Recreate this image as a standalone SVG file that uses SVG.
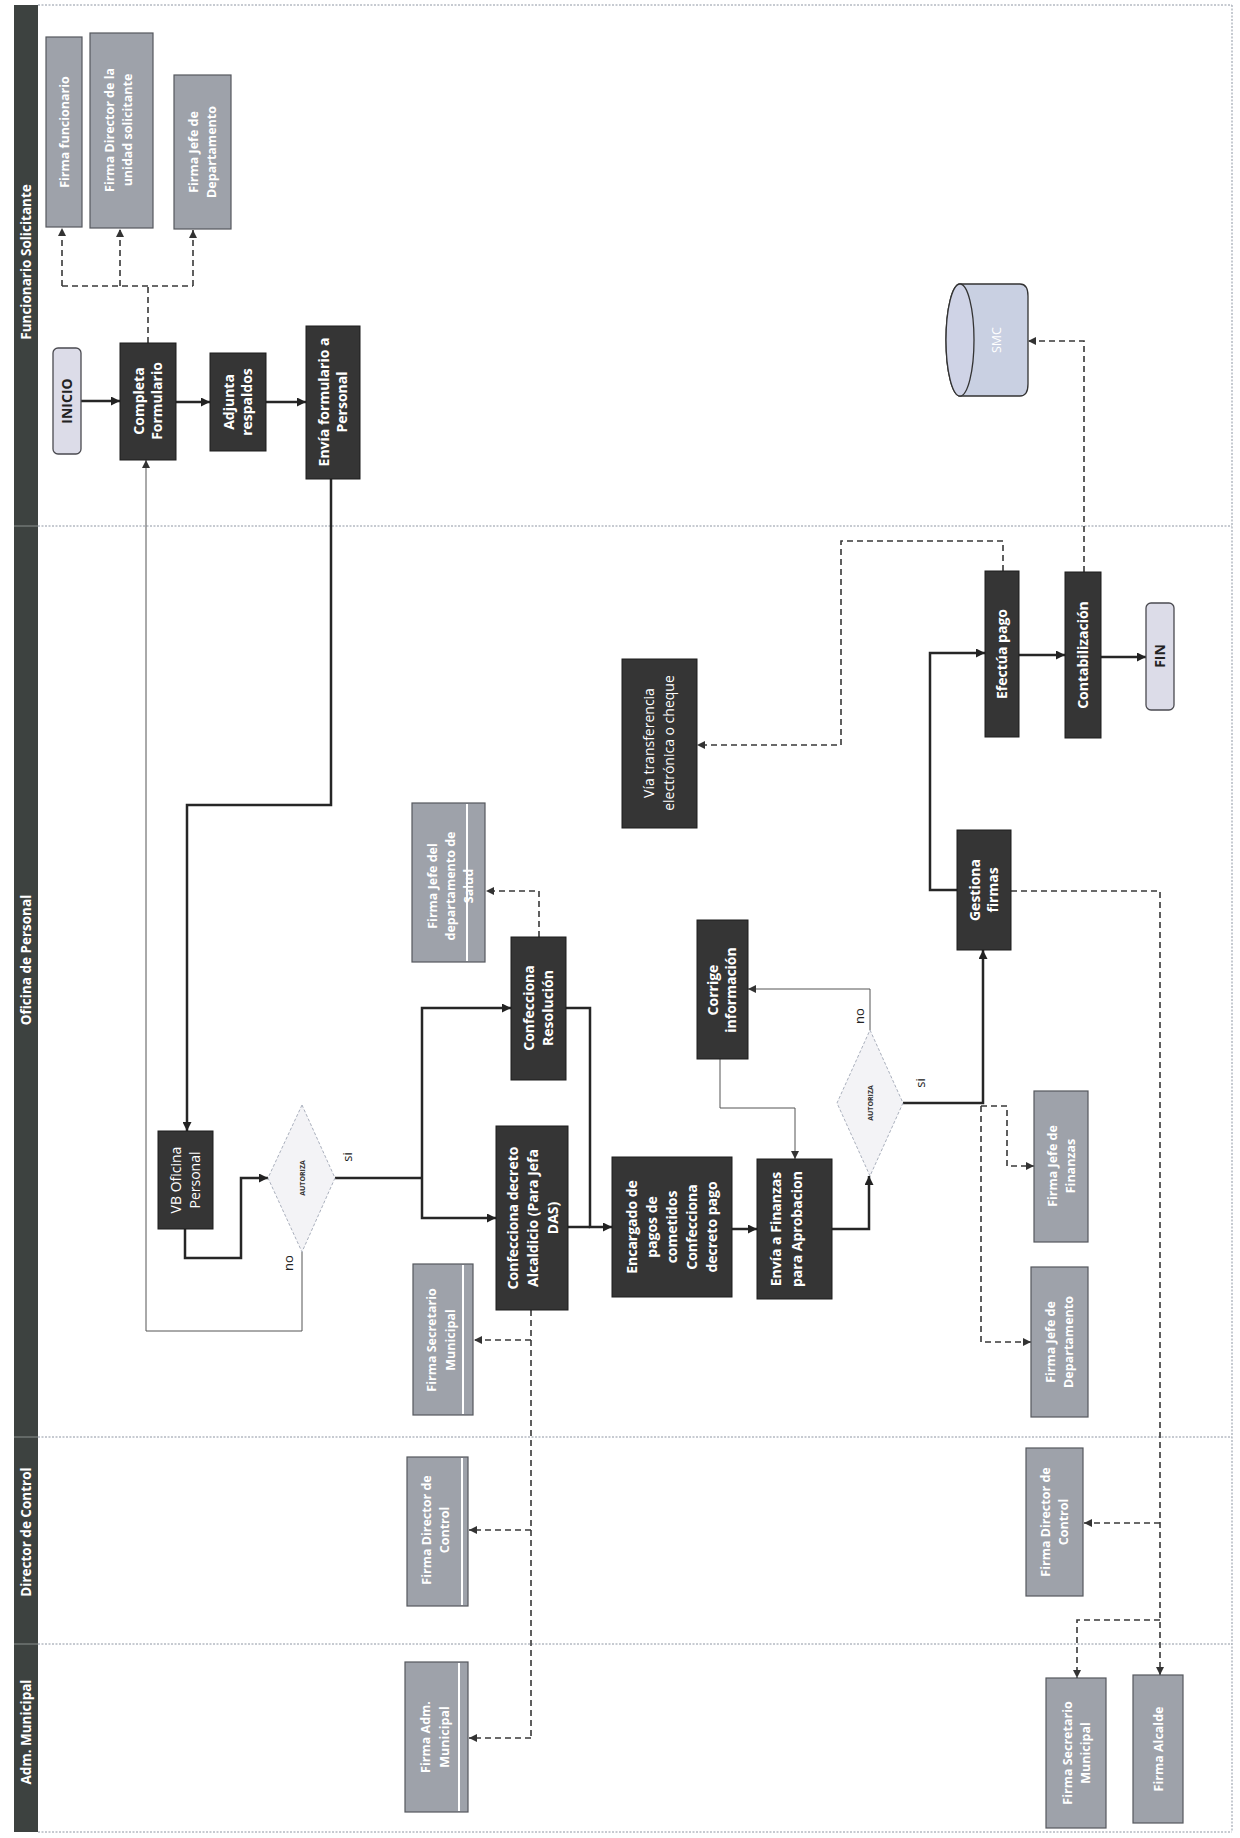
<svg xmlns="http://www.w3.org/2000/svg" width="1240" height="1838" viewBox="0 0 1240 1838">
<style>
text{font-family:"Open Sans","Liberation Sans",sans-serif}
.bar{fill:#3d4240}
.lt{fill:#fff;font-size:13.5px;font-weight:bold}
.div{stroke:#8e96a3;stroke-width:1;stroke-dasharray:2 1.5;fill:none}
.dk{fill:#353535;stroke:#1d1d1d;stroke-width:1}
.sig{fill:#9ea2aa;stroke:#55585e;stroke-width:1.2}
.term{fill:#dcdce8;stroke:#4a4a50;stroke-width:1.3}
.dia{fill:#f3f3f6;stroke:#aab0bd;stroke-width:1;stroke-dasharray:3 2}
.stripe{stroke:#fff;stroke-width:2}
.tb{fill:#fff;font-size:14px;font-weight:bold}
.tr{fill:#fff;font-size:14px}
.ts{fill:#fff;font-size:12.5px;font-weight:bold}
.tt{fill:#222;font-size:14px;font-weight:bold}
.ta{fill:#333;font-size:7px;font-weight:bold}
.lbl{fill:#222;font-size:13px}
.thick{stroke:#262626;stroke-width:2.5;fill:none}
.thin{stroke:#555;stroke-width:1;fill:none}
.dash{stroke:#383838;stroke-width:1.6;fill:none;stroke-dasharray:6 4}
</style>
<defs>
<marker id="ah" viewBox="0 0 10 10" refX="10" refY="5" markerWidth="9" markerHeight="9" markerUnits="userSpaceOnUse" orient="auto"><path d="M0,0 L10,5 L0,10 z" fill="#222"/></marker>
<marker id="ahs" viewBox="0 0 10 10" refX="10" refY="5" markerWidth="8" markerHeight="8" markerUnits="userSpaceOnUse" orient="auto"><path d="M0,0 L10,5 L0,10 z" fill="#333"/></marker>
</defs>
<rect width="1240" height="1838" fill="#fff"/>

<g id="lanes">
<rect class="bar" x="14" y="5" width="24" height="1827"/>
<line x1="14" y1="526" x2="38" y2="526" stroke="#8a8f8d" stroke-width="1"/>
<line x1="14" y1="1437" x2="38" y2="1437" stroke="#8a8f8d" stroke-width="1"/>
<line x1="14" y1="1644" x2="38" y2="1644" stroke="#8a8f8d" stroke-width="1"/>
<line class="div" x1="38" y1="5" x2="1232" y2="5"/>
<line class="div" x1="38" y1="526" x2="1232" y2="526"/>
<line class="div" x1="38" y1="1437" x2="1232" y2="1437"/>
<line class="div" x1="38" y1="1644" x2="1232" y2="1644"/>
<line class="div" x1="38" y1="1832" x2="1232" y2="1832"/>
<line class="div" x1="1232" y1="5" x2="1232" y2="1832"/>
<text class="lt" transform="translate(26,262) rotate(-90)" text-anchor="middle" y="5">Funcionario Solicitante</text>
<text class="lt" transform="translate(26,960) rotate(-90)" text-anchor="middle" y="5">Oficina de Personal</text>
<text class="lt" transform="translate(26,1532) rotate(-90)" text-anchor="middle" y="5">Director de Control</text>
<text class="lt" transform="translate(26,1732) rotate(-90)" text-anchor="middle" y="5">Adm. Municipal</text>
</g>

<g id="connectors">
<!-- lane 1 -->
<line class="thick" x1="81" y1="401" x2="120" y2="401" marker-end="url(#ah)"/>
<line class="thick" x1="176" y1="402" x2="210" y2="402" marker-end="url(#ah)"/>
<line class="thick" x1="266" y1="402" x2="306" y2="402" marker-end="url(#ah)"/>
<path class="dash" d="M148,343 V286 M62,286 H193"/>
<line class="dash" x1="62" y1="286" x2="62" y2="228" marker-end="url(#ahs)"/>
<line class="dash" x1="120" y1="286" x2="120" y2="229" marker-end="url(#ahs)"/>
<line class="dash" x1="193" y1="286" x2="193" y2="230" marker-end="url(#ahs)"/>
<path class="thick" d="M331,479 V805 H187 V1131" marker-end="url(#ah)"/>
<path class="thin" d="M302,1252 V1331 H146 V460" marker-end="url(#ahs)"/>
<!-- lane 2 -->
<path class="thick" d="M185,1229 V1258 H241 V1178 H268" marker-end="url(#ah)"/>
<path class="thick" d="M335,1178 H422"/>
<path class="thick" d="M422,1178 V1008 H511" marker-end="url(#ah)"/>
<path class="thick" d="M422,1178 V1218 H496" marker-end="url(#ah)"/>
<path class="dash" d="M539,937 V891 H486" marker-end="url(#ahs)"/>
<path class="thick" d="M566,1008 H590 V1227 H612" marker-end="url(#ah)"/>
<path class="thick" d="M568,1227 H590"/>
<path class="dash" d="M531,1310 V1738"/>
<line class="dash" x1="531" y1="1340" x2="474" y2="1340" marker-end="url(#ahs)"/>
<line class="dash" x1="531" y1="1530" x2="469" y2="1530" marker-end="url(#ahs)"/>
<line class="dash" x1="531" y1="1738" x2="469" y2="1738" marker-end="url(#ahs)"/>
<line class="thick" x1="732" y1="1229" x2="757" y2="1229" marker-end="url(#ah)"/>
<path class="thick" d="M832,1229 H869 V1176" marker-end="url(#ah)"/>
<path class="thin" d="M870,1030 V989 H748" marker-end="url(#ahs)"/>
<path class="thin" d="M720,1059 V1108 H795 V1159" marker-end="url(#ahs)"/>
<path class="thick" d="M903,1103 H983 V950" marker-end="url(#ah)"/>
<path class="dash" d="M981,1106 H1007 V1166 H1034" marker-end="url(#ahs)"/>
<path class="dash" d="M981,1106 V1342 H1031" marker-end="url(#ahs)"/>
<path class="thick" d="M957,890 H930 V653 H985" marker-end="url(#ah)"/>
<line class="thick" x1="1019" y1="655" x2="1065" y2="655" marker-end="url(#ah)"/>
<line class="thick" x1="1101" y1="657" x2="1146" y2="657" marker-end="url(#ah)"/>
<path class="dash" d="M1003,571 V541 H841 V745 H697" marker-end="url(#ahs)"/>
<path class="dash" d="M1084,572 V341 H1028" marker-end="url(#ahs)"/>
<path class="dash" d="M1011,891 H1160 V1675" marker-end="url(#ahs)"/>
<line class="dash" x1="1160" y1="1523" x2="1084" y2="1523" marker-end="url(#ahs)"/>
<path class="dash" d="M1160,1620 H1077 V1678" marker-end="url(#ahs)"/>
</g>

<g id="firma-funcionario"><rect class="sig" x="46" y="37" width="36" height="190"/>
<text class="ts" transform="translate(64,132) rotate(-90)" text-anchor="middle"><tspan x="0" y="4.5">Firma funcionario</tspan></text></g>
<g id="firma-director-unidad"><rect class="sig" x="90" y="33" width="63" height="195"/>
<text class="ts" transform="translate(118,130) rotate(-90)" text-anchor="middle"><tspan x="0" y="-4.5">Firma Director  de la</tspan><tspan x="0" y="13.5">unidad solicitante</tspan></text></g>
<g id="firma-jefe-depto-1"><rect class="sig" x="174" y="75" width="57" height="154"/>
<text class="ts" transform="translate(202,152) rotate(-90)" text-anchor="middle"><tspan x="0" y="-4.5">Firma Jefe de</tspan><tspan x="0" y="13.5">Departamento</tspan></text></g>
<g id="inicio"><rect class="term" x="53" y="348" width="28" height="106" rx="5"/>
<text class="tt" transform="translate(67,401) rotate(-90)" text-anchor="middle" y="5">INICIO</text></g>
<g id="completa-formulario"><rect class="dk" x="120" y="343" width="56" height="117"/>
<text class="tb" transform="translate(148,401) rotate(-90)" text-anchor="middle"><tspan x="0" y="-4">Completa</tspan><tspan x="0" y="14">Formulario</tspan></text></g>
<g id="adjunta-respaldos"><rect class="dk" x="210" y="353" width="56" height="98"/>
<text class="tb" transform="translate(238,402) rotate(-90)" text-anchor="middle"><tspan x="0" y="-4">Adjunta</tspan><tspan x="0" y="14">respaldos</tspan></text></g>
<g id="envia-formulario"><rect class="dk" x="306" y="326" width="54" height="153"/>
<text class="tb" transform="translate(333,402) rotate(-90)" text-anchor="middle"><tspan x="0" y="-4">Envía formulario a</tspan><tspan x="0" y="14">Personal</tspan></text></g>

<g id="vb-oficina"><rect class="dk" x="158" y="1131" width="55" height="98"/>
<text class="tr" transform="translate(185,1180) rotate(-90)" text-anchor="middle"><tspan x="0" y="-4">VB Oficina</tspan><tspan x="0" y="15">Personal</tspan></text></g>
<g id="autoriza-1"><polygon class="dia" points="302,1105 335,1178 302,1252 268,1178"/>
<text class="ta" transform="translate(302,1178) rotate(-90)" text-anchor="middle" y="2.5">AUTORIZA</text>
<text class="lbl" transform="translate(348,1157) rotate(-90)" text-anchor="middle" y="4">si</text>
<text class="lbl" transform="translate(289,1263) rotate(-90)" text-anchor="middle" y="4">no</text></g>
<g id="confecciona-resolucion"><rect class="dk" x="511" y="937" width="55" height="143"/>
<text class="tb" transform="translate(538,1008) rotate(-90)" text-anchor="middle"><tspan x="0" y="-4">Confecciona</tspan><tspan x="0" y="15">Resolución</tspan></text></g>
<g id="firma-jefe-salud"><rect class="sig" x="412" y="803" width="73" height="159"/>
<text class="ts" transform="translate(450,886) rotate(-90)" text-anchor="middle"><tspan x="0" y="-13.5">Firma Jefe del</tspan><tspan x="0" y="4.5">departamento de</tspan><tspan x="0" y="22.5">Salud</tspan></text>
<line class="stripe" x1="467" y1="804" x2="467" y2="961"/></g>
<g id="confecciona-decreto"><rect class="dk" x="496" y="1126" width="72" height="184"/>
<text class="tb" transform="translate(533,1218) rotate(-90)" text-anchor="middle"><tspan x="0" y="-15">Confecciona  decreto</tspan><tspan x="0" y="5">Alcaldicio  (Para Jefa</tspan><tspan x="0" y="25">DAS)</tspan></text></g>
<g id="firma-secretario-1"><rect class="sig" x="413" y="1264" width="60" height="151"/>
<text class="ts" transform="translate(440,1340) rotate(-90)" text-anchor="middle"><tspan x="0" y="-4.5">Firma Secretario</tspan><tspan x="0" y="14.5">Municipal</tspan></text>
<line class="stripe" x1="463" y1="1265" x2="463" y2="1414"/></g>
<g id="encargado-pagos"><rect class="dk" x="612" y="1157" width="120" height="140"/>
<text class="tb" transform="translate(672,1227) rotate(-90)" text-anchor="middle"><tspan x="0" y="-35">Encargado de</tspan><tspan x="0" y="-15">pagos de</tspan><tspan x="0" y="5">cometidos</tspan><tspan x="0" y="25">Confecciona</tspan><tspan x="0" y="45">decreto pago</tspan></text></g>
<g id="envia-finanzas"><rect class="dk" x="757" y="1159" width="75" height="140"/>
<text class="tb" transform="translate(786,1229) rotate(-90)" text-anchor="middle"><tspan x="0" y="-5">Envía a Finanzas</tspan><tspan x="0" y="16">para Aprobacion</tspan></text></g>
<g id="autoriza-2"><polygon class="dia" points="870,1030 903,1103 870,1176 837,1103"/>
<text class="ta" transform="translate(870,1103) rotate(-90)" text-anchor="middle" y="2.5">AUTORIZA</text>
<text class="lbl" transform="translate(921,1083) rotate(-90)" text-anchor="middle" y="4">si</text>
<text class="lbl" transform="translate(860,1016) rotate(-90)" text-anchor="middle" y="4">no</text></g>
<g id="corrige-informacion"><rect class="dk" x="697" y="920" width="51" height="139"/>
<text class="tb" transform="translate(722,990) rotate(-90)" text-anchor="middle"><tspan x="0" y="-4">Corrige</tspan><tspan x="0" y="14">información</tspan></text></g>
<g id="firma-jefe-finanzas"><rect class="sig" x="1034" y="1091" width="54" height="151"/>
<text class="ts" transform="translate(1061,1166) rotate(-90)" text-anchor="middle"><tspan x="0" y="-4.5">Firma  Jefe de</tspan><tspan x="0" y="13.5">Finanzas</tspan></text></g>
<g id="firma-jefe-depto-2"><rect class="sig" x="1031" y="1267" width="57" height="150"/>
<text class="ts" transform="translate(1059,1342) rotate(-90)" text-anchor="middle"><tspan x="0" y="-4.5">Firma  Jefe de</tspan><tspan x="0" y="13.5">Departamento</tspan></text></g>
<g id="gestiona-firmas"><rect class="dk" x="957" y="830" width="54" height="120"/>
<text class="tb" transform="translate(984,890) rotate(-90)" text-anchor="middle"><tspan x="0" y="-4">Gestiona</tspan><tspan x="0" y="14">firmas</tspan></text></g>
<g id="via-transferencia"><rect class="dk" x="622" y="659" width="75" height="169"/>
<text class="tr" transform="translate(659,743) rotate(-90)" text-anchor="middle"><tspan x="0" y="-5">Vía transferencia</tspan><tspan x="0" y="15">electrónica o cheque</tspan></text></g>
<g id="efectua-pago"><rect class="dk" x="985" y="571" width="34" height="166"/>
<text class="tb" transform="translate(1002,654) rotate(-90)" text-anchor="middle" y="5">Efectúa pago</text></g>
<g id="contabilizacion"><rect class="dk" x="1065" y="572" width="36" height="166"/>
<text class="tb" transform="translate(1083,655) rotate(-90)" text-anchor="middle" y="5">Contabilización</text></g>
<g id="fin"><rect class="term" x="1146" y="603" width="28" height="107" rx="5"/>
<text class="tt" transform="translate(1160,656) rotate(-90)" text-anchor="middle" y="5">FIN</text></g>
<g id="smc"><path d="M960,284 H1020 Q1028,284 1028,296 V384 Q1028,396 1020,396 H960 A14,56 0 0 1 960,284 Z" fill="#c9d0e2" stroke="#333" stroke-width="1.3"/>
<ellipse cx="960" cy="340" rx="14" ry="56" fill="#cfd3e6" stroke="#333" stroke-width="1.3"/>
<text transform="translate(996,340) rotate(-90)" text-anchor="middle" y="4.5" fill="#fff" font-size="12.5">SMC</text></g>

<g id="firma-director-control-1"><rect class="sig" x="407" y="1457" width="61" height="149"/>
<text class="ts" transform="translate(435,1530) rotate(-90)" text-anchor="middle"><tspan x="0" y="-4">Firma  Director de</tspan><tspan x="0" y="14">Control</tspan></text>
<line class="stripe" x1="462" y1="1458" x2="462" y2="1605"/></g>
<g id="firma-director-control-2"><rect class="sig" x="1026" y="1448" width="57" height="148"/>
<text class="ts" transform="translate(1054,1522) rotate(-90)" text-anchor="middle"><tspan x="0" y="-4.5">Firma  Director de</tspan><tspan x="0" y="13.5">Control</tspan></text></g>

<g id="firma-adm-municipal"><rect class="sig" x="405" y="1662" width="63" height="150"/>
<text class="ts" transform="translate(435,1737) rotate(-90)" text-anchor="middle"><tspan x="0" y="-5">Firma  Adm.</tspan><tspan x="0" y="14">Municipal</tspan></text>
<line class="stripe" x1="459" y1="1663" x2="459" y2="1811"/></g>
<g id="firma-secretario-2"><rect class="sig" x="1046" y="1678" width="60" height="150"/>
<text class="ts" transform="translate(1076,1753) rotate(-90)" text-anchor="middle"><tspan x="0" y="-4.5">Firma Secretario</tspan><tspan x="0" y="14">Municipal</tspan></text></g>
<g id="firma-alcalde"><rect class="sig" x="1133" y="1675" width="50" height="148"/>
<text class="ts" transform="translate(1158,1749) rotate(-90)" text-anchor="middle" y="4.5">Firma Alcalde</text></g>
</svg>
